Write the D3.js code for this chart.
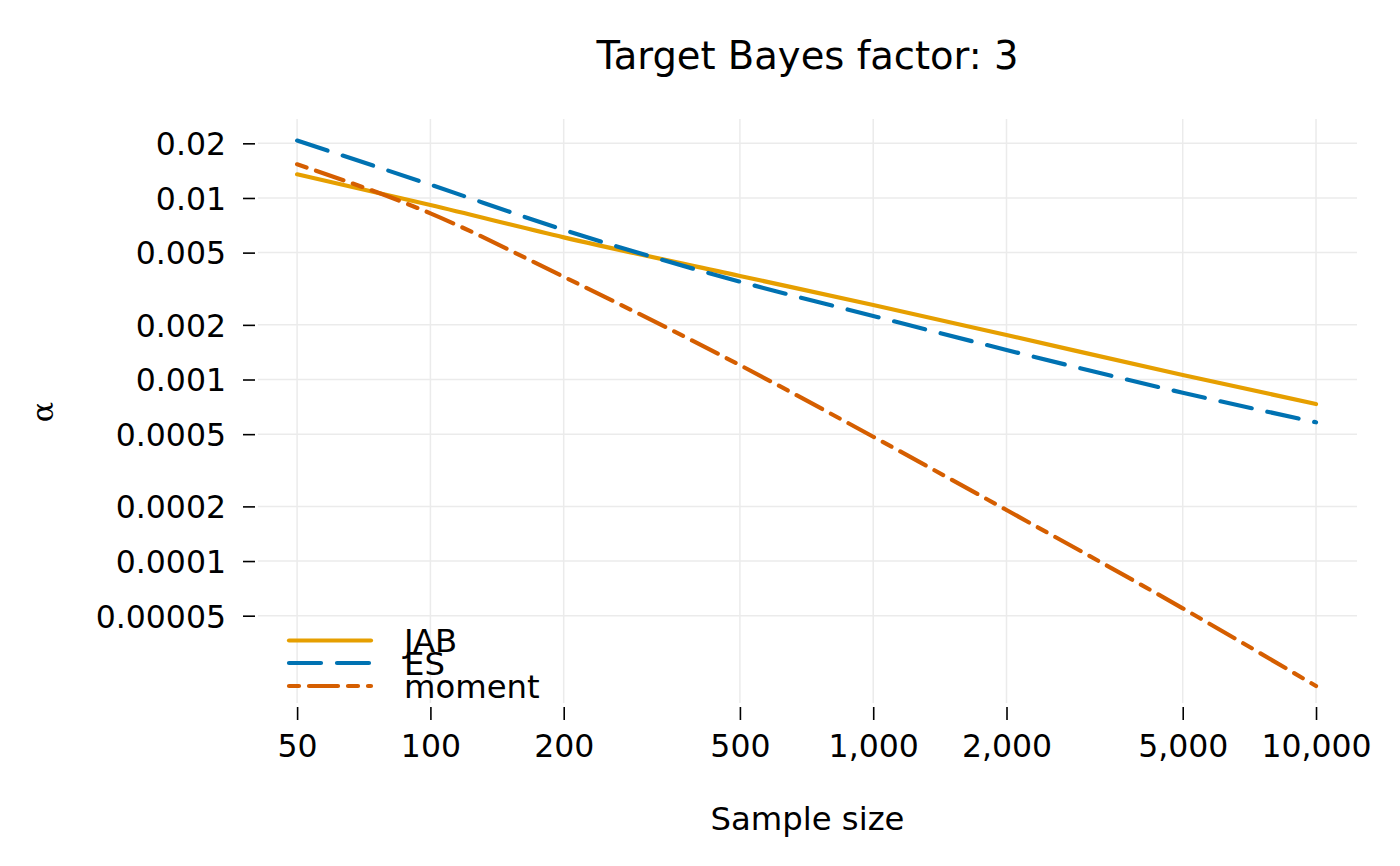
<!DOCTYPE html>
<html><head><meta charset="utf-8">
<script src="https://cdn.jsdelivr.net/npm/d3@7"></script>
<style>body{margin:0;background:#fff}svg{display:block}</style></head>
<body><svg id="c" width="1400" height="866"></svg>
<script>
// ---- data ----
const sampleSizes = [50, 100, 200, 500, 1000, 2000, 5000, 10000];
const jabAlpha    = [0.0135, 0.00915, 0.00607, 0.00372, 0.002573, 0.001758, 0.001059, 0.000733];
const esAlpha     = [0.0207, 0.01184, 0.00667, 0.00346, 0.002239, 0.001455, 0.000846, 0.000581];
const momentAlpha = [0.01533, 0.00823, 0.00368, 0.00120, 0.000484, 0.000191, 0.0000549, 0.0000205];
const seriesNames = ["JAB", "ES", "moment"];
const xTicks = [50, 100, 200, 500, 1000, 2000, 5000, 10000];
const xTickLabels = ["50", "100", "200", "500", "1,000", "2,000", "5,000", "10,000"];
const yTicks = [0.02, 0.01, 0.005, 0.002, 0.001, 0.0005, 0.0002, 0.0001, 0.00005];
const yTickLabels = ["0.02", "0.01", "0.005", "0.002", "0.001", "0.0005", "0.0002", "0.0001", "0.00005"];
const titleText = "Target Bayes factor: 3";
const xTitle = "Sample size";
const yTitle = "α";

// ---- layout / style ----
const P = {l: 258, r: 1357, t: 119, b: 703};
const colors = ["#E69F00", "#0072B2", "#D55E00"];
const dashes = [null, "32,16", "10,10,29,10"];
const LW = 4.2;
const FS = 31.5;
const FS2 = 32.3;
const FONT = "'DejaVu Sans', sans-serif";

const svg = d3.select("#c");
svg.append("rect").attr("width", 1400).attr("height", 866).attr("fill", "#fff");

const x = d3.scaleLog().domain([40.8, 12375]).range([P.l, P.r]);
const y = d3.scaleLog().domain([1.652e-5, 0.02723]).range([P.b, P.t]);

// grid
const grid = svg.append("g").attr("stroke", "#ebebeb").attr("stroke-width", 1.5);
grid.selectAll("line.h").data(yTicks).join("line")
  .attr("x1", P.l).attr("x2", P.r).attr("y1", d => y(d)).attr("y2", d => y(d));
grid.selectAll("line.v").data(xTicks).join("line")
  .attr("y1", P.t).attr("y2", P.b).attr("x1", d => x(d)).attr("x2", d => x(d));

// y axis
const yAxis = d3.axisLeft(y).tickValues(yTicks).tickSize(12).tickPadding(17)
  .tickFormat((d, i) => yTickLabels[i]);
const gy = svg.append("g").attr("transform", `translate(${P.l - 3},0)`).call(yAxis);
gy.select(".domain").remove();
gy.selectAll(".tick line").attr("stroke", "#000").attr("stroke-width", 1.6);
gy.selectAll(".tick text").attr("font-family", FONT).attr("font-size", FS).attr("fill", "#000")
  .attr("dy", "0.36em");

// x axis
const xAxis = d3.axisBottom(x).tickValues(xTicks).tickSize(13).tickPadding(15)
  .tickFormat((d, i) => xTickLabels[i]);
const gx = svg.append("g").attr("transform", `translate(0,${P.b + 4})`).call(xAxis);
gx.select(".domain").remove();
gx.selectAll(".tick line").attr("stroke", "#000").attr("stroke-width", 1.6);
gx.selectAll(".tick text").attr("font-family", FONT).attr("font-size", FS).attr("fill", "#000")
  .attr("dy", "0.71em");

// lines
const allSeries = [jabAlpha, esAlpha, momentAlpha];
const line = d3.line().x((d, i) => x(sampleSizes[i])).y(d => y(d)).curve(d3.curveMonotoneX);
allSeries.forEach((s, k) => {
  svg.append("path").datum(s).attr("d", line)
    .attr("fill", "none").attr("stroke", colors[k]).attr("stroke-width", LW)
    .attr("stroke-linecap", "round").attr("stroke-linejoin", "round")
    .attr("stroke-dasharray", dashes[k]);
});

// legend
const legY = [640.5, 663, 686];
const lg = svg.append("g");
seriesNames.forEach((n, k) => {
  lg.append("line").attr("x1", 289).attr("x2", 371).attr("y1", legY[k]).attr("y2", legY[k])
    .attr("stroke", colors[k]).attr("stroke-width", LW).attr("stroke-linecap", "round")
    .attr("stroke-dasharray", dashes[k]);
  lg.append("text").attr("x", 404).attr("y", legY[k]).attr("dy", "0.36em")
    .attr("font-family", FONT).attr("font-size", FS2).attr("fill", "#000").text(n);
});

// titles
const cx = (P.l + P.r) / 2;
svg.append("text").attr("x", cx).attr("y", 69).attr("text-anchor", "middle")
  .attr("font-family", FONT).attr("font-size", 38.5).attr("fill", "#000").text(titleText);
svg.append("text").attr("x", cx).attr("y", 830).attr("text-anchor", "middle")
  .attr("font-family", FONT).attr("font-size", FS2).attr("fill", "#000").text(xTitle);
svg.append("text").attr("transform", "translate(53,412) rotate(-90)").attr("text-anchor", "middle")
  .attr("font-family", "'DejaVu Serif', serif").attr("font-size", 30).attr("fill", "#000").text(yTitle);
</script>
</body></html>
